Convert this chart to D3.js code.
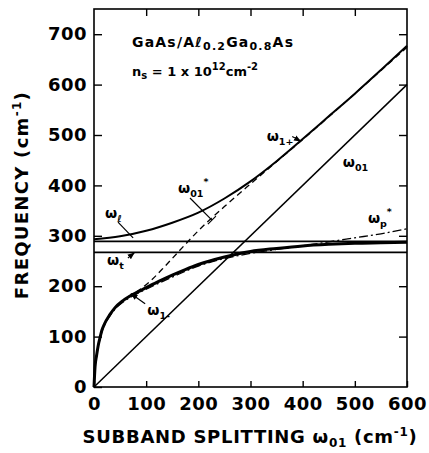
<!DOCTYPE html>
<html>
<head>
<meta charset="utf-8">
<script src="https://cdn.jsdelivr.net/npm/d3@7"></script>
<style>
    body { margin: 0; background: #fff; }
    svg text { font-family: "DejaVu Sans", sans-serif; font-weight: bold; fill: #000; }
</style>
</head>
<body>
<div id="chart"></div>
<script>
// values (cm^-1)
const xTicks = [0, 100, 200, 300, 400, 500, 600];
const yTicks = [0, 100, 200, 300, 400, 500, 600, 700];

const omegaL = 289;   // LO phonon
const omegaT = 267;   // TO phonon

const w01X = [0, 600];
const w01Y = [0, 600];

const w1pX = [0, 50, 100, 150, 200, 250, 300, 350, 400, 450, 500, 550, 600];
const w1pY = [293, 299, 310, 326, 346, 374, 408, 448, 492, 537, 582, 629, 677];

const w01sX = [0, 2, 5, 8, 12, 15, 20, 30, 40, 55, 70, 90, 110, 130, 150, 175, 200, 250, 300, 350, 400, 450, 500, 550, 600];
const w01sY = [0, 40, 63, 82, 100, 112, 125, 143, 157, 171, 182, 195, 212, 233, 255, 283, 310, 358, 403, 447, 491, 536, 582, 628, 674];

const w1mX = [0, 2, 5, 8, 12, 15, 20, 30, 40, 55, 70, 100, 125, 150, 175, 200, 250, 275, 300, 350, 400, 450, 500, 550, 600];
const w1mY = [0, 40, 63, 82, 100, 112, 125, 143, 157, 171, 181, 197, 210, 222, 233, 243, 258, 264, 269, 275, 280, 283, 285, 286, 287];

const wpX = [0, 2, 5, 8, 12, 15, 20, 30, 40, 55, 70, 100, 150, 200, 250, 300, 350, 400, 450, 500, 550, 600];
const wpY = [0, 38, 61, 80, 97, 109, 122, 140, 154, 168, 178, 194, 218, 240, 255, 265, 273, 280, 288, 296, 304, 314];

const zip = (xs, ys) => xs.map((x, i) => ({ x: x, y: ys[i] }));

const width = 429, height = 453;
const margin = { top: 9, right: 22, bottom: 66, left: 94 };

const svg = d3.select("#chart").append("svg")
    .attr("width", width)
    .attr("height", height);

const x = d3.scaleLinear().domain([0, 600]).range([margin.left, width - margin.right]);
const y = d3.scaleLinear().domain([0, 750]).range([height - margin.bottom, margin.top]);

// arrow head
svg.append("defs").append("marker")
    .attr("id", "arr")
    .attr("viewBox", "0 0 10 10")
    .attr("refX", 9).attr("refY", 5)
    .attr("markerWidth", 6).attr("markerHeight", 6)
    .attr("orient", "auto")
    .append("path")
    .attr("d", "M0,1 L10,5 L0,9 Z")
    .attr("fill", "#000");

// axes, ticks pointing inward
const gx = svg.append("g")
    .attr("transform", "translate(0," + y(0) + ")")
    .call(d3.axisBottom(x).tickValues(xTicks).tickSize(-6).tickPadding(10));
const gxTop = svg.append("g")
    .attr("transform", "translate(0," + y(750) + ")")
    .call(d3.axisTop(x).tickValues(xTicks.slice(1, -1)).tickSize(-7).tickFormat(""));
const gy = svg.append("g")
    .attr("transform", "translate(" + x(0) + ",0)")
    .call(d3.axisLeft(y).tickValues(yTicks).tickSize(-8).tickPadding(7));
const gyRight = svg.append("g")
    .attr("transform", "translate(" + x(600) + ",0)")
    .call(d3.axisRight(y).tickValues(yTicks.slice(1)).tickSize(-8).tickFormat(""));

[gx, gxTop, gy, gyRight].forEach(g => {
    g.select(".domain").remove();
    g.selectAll("line").attr("stroke", "#000").attr("stroke-width", 1.4);
    g.selectAll("text")
        .style("font-size", "18px")
        .style("letter-spacing", "0.5px")
        .style("font-family", "DejaVu Sans")
        .style("font-weight", "bold");
});

// frame
svg.append("rect")
    .attr("x", x(0)).attr("y", y(750))
    .attr("width", x(600) - x(0)).attr("height", y(0) - y(750))
    .attr("fill", "none").attr("stroke", "#000").attr("stroke-width", 1.6);

const line = d3.line()
    .x(d => x(d.x))
    .y(d => y(d.y))
    .curve(d3.curveMonotoneX);

// phonon lines
[omegaL, omegaT].forEach(v => {
    svg.append("line")
        .attr("x1", x(0)).attr("x2", x(600))
        .attr("y1", y(v)).attr("y2", y(v))
        .attr("stroke", "#000").attr("stroke-width", 1.8);
});

// omega_01
svg.append("path").datum(zip(w01X, w01Y))
    .attr("d", d3.line().x(d => x(d.x)).y(d => y(d.y)))
    .attr("fill", "none").attr("stroke", "#000").attr("stroke-width", 1.5);

// omega_1-
svg.append("path").datum(zip(w1mX, w1mY))
    .attr("d", line)
    .attr("fill", "none").attr("stroke", "#000").attr("stroke-width", 3);

// omega_p*
svg.append("path").datum(zip(wpX, wpY))
    .attr("d", line)
    .attr("fill", "none").attr("stroke", "#000").attr("stroke-width", 1.3)
    .attr("stroke-dasharray", "9,3,2,3");

// omega_01*
svg.append("path").datum(zip(w01sX, w01sY))
    .attr("d", line)
    .attr("fill", "none").attr("stroke", "#000").attr("stroke-width", 1.3)
    .attr("stroke-dasharray", "6,4");

// omega_1+
svg.append("path").datum(zip(w1pX, w1pY))
    .attr("d", line)
    .attr("fill", "none").attr("stroke", "#000").attr("stroke-width", 2);

// labels with sub/superscripts
function label(px, py, main, sub, sup, size) {
    size = size || 14;
    const t = svg.append("text").attr("x", px).attr("y", py).style("font-size", size + "px");
    t.append("tspan").text(main);
    if (sub) t.append("tspan").attr("dy", 4).style("font-size", (size * 0.68) + "px").text(sub);
    if (sup) t.append("tspan").attr("dy", sub ? -12 : -7).style("font-size", (size * 0.68) + "px").text(sup);
    return t;
}

label(x(331), y(488), "ω", "1+");
label(x(477), y(436), "ω", "01");
label(x(161), y(385), "ω", "01", "*");
label(x(21), y(335), "ω", "ℓ");
label(x(25), y(242), "ω", "t");
label(x(102), y(143), "ω", "1-");
label(x(525), y(325), "ω", "p", "*");

// pointers
function pointer(x1, y1, x2, y2, arrow) {
    const l = svg.append("line")
        .attr("x1", x(x1)).attr("y1", y(y1))
        .attr("x2", x(x2)).attr("y2", y(y2))
        .attr("stroke", "#000").attr("stroke-width", 1.2);
    if (arrow) l.attr("marker-end", "url(#arr)");
}
pointer(380, 497, 396, 488, true);
pointer(184, 375, 226, 331, false);
pointer(46, 327, 75, 296, false);
pointer(65, 256, 77, 266, true);
pointer(98, 165, 71, 185, true);

// small cross tick on the omega_01* pointer
svg.append("line")
    .attr("x1", x(226) - 4).attr("y1", y(331) + 4)
    .attr("x2", x(226) + 4).attr("y2", y(331) - 4)
    .attr("stroke", "#000").attr("stroke-width", 1.2);

// sample description
const t1 = svg.append("text").attr("x", 132).attr("y", 47)
    .style("font-size", "14px").style("letter-spacing", "1.2px");
t1.append("tspan").text("GaAs/Aℓ");
t1.append("tspan").attr("dy", 3).style("font-size", "11px").text("0.2");
t1.append("tspan").attr("dy", -3).text("Ga");
t1.append("tspan").attr("dy", 3).style("font-size", "11px").text("0.8");
t1.append("tspan").attr("dy", -3).text("As");

const t2 = svg.append("text").attr("x", 132).attr("y", 76).style("font-size", "13px");
t2.append("tspan").text("n");
t2.append("tspan").attr("dy", 3).style("font-size", "10px").text("s");
t2.append("tspan").attr("dy", -3).text(" = 1 x 10");
t2.append("tspan").attr("dy", -6).style("font-size", "10px").text("12");
t2.append("tspan").attr("dy", 6).text("cm");
t2.append("tspan").attr("dy", -6).style("font-size", "10px").text("-2");

// axis titles
const xt = svg.append("text")
    .attr("x", 250).attr("y", 443)
    .attr("text-anchor", "middle")
    .style("font-size", "18px").style("letter-spacing", "0.7px");
xt.append("tspan").text("SUBBAND SPLITTING ω");
xt.append("tspan").attr("dy", 4).style("font-size", "12px").text("01");
xt.append("tspan").attr("dy", -4).text(" (cm");
xt.append("tspan").attr("dy", -7).style("font-size", "12px").text("-1");
xt.append("tspan").attr("dy", 7).text(")");

const yt = svg.append("text")
    .attr("transform", "translate(28,195) rotate(-90)")
    .attr("text-anchor", "middle")
    .style("font-size", "18px").style("letter-spacing", "1.3px");
yt.append("tspan").text("FREQUENCY (cm");
yt.append("tspan").attr("dy", -7).style("font-size", "12px").text("-1");
yt.append("tspan").attr("dy", 7).text(")");
</script>
</body>
</html>
